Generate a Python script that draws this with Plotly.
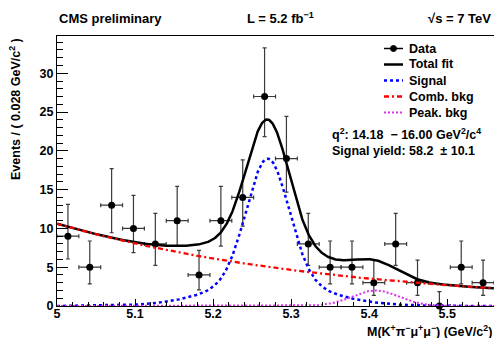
import numpy as np
import plotly.graph_objects as go

# ---- binned data: M(K+ pi- mu+ mu-) in 0.028 GeV bins ----
mass_centers = [5.014, 5.042, 5.070, 5.098, 5.126, 5.154, 5.182, 5.210, 5.238, 5.266,
                5.294, 5.322, 5.350, 5.378, 5.406, 5.434, 5.462, 5.490, 5.518, 5.546]
events = [9, 5, 13, 10, 8, 11, 4, 11, 14, 27, 19, 8, 5, 5, 3, 8, 3, 0, 5, 3]
# asymmetric (Poisson) error bars
err_low = [2.94, 2.16, 3.56, 3.11, 2.77, 3.27, 1.91, 3.27, 3.70, 5.18,
           4.32, 2.77, 2.16, 2.16, 1.63, 2.77, 1.63, 0.00, 2.16, 1.63]
err_high = [4.11, 3.38, 4.70, 4.26, 3.95, 4.42, 3.16, 4.42, 4.83, 6.27,
            5.43, 3.95, 3.38, 3.38, 2.92, 3.95, 2.92, 1.84, 3.38, 2.92]
bin_width = 0.028

# ---- fit model parameters ----
sig_yield = 58.2
sig_err = 10.1
sig_mean = 5.270
sig_sigma_core = 0.027
sig_sigma_wide = 0.070
sig_frac_core = 0.656

comb_at_5 = 10.6        # events / bin at 5.0 GeV
comb_slope = -2.75      # exponential slope (1/GeV)

peak_amp = 2.0          # events / bin at maximum
peak_mean = 5.408
peak_sigma = 0.030

q2_low, q2_high = 14.18, 16.00

x_lo, x_hi = 5.0, 5.56
y_hi = 34.8


def gauss(x, m, s):
    return np.exp(-0.5 * ((x - m) / s) ** 2) / (s * np.sqrt(2 * np.pi))


xf = np.linspace(x_lo, x_hi, 600)
signal = sig_yield * bin_width * (sig_frac_core * gauss(xf, sig_mean, sig_sigma_core)
                                  + (1 - sig_frac_core) * gauss(xf, sig_mean, sig_sigma_wide))
comb = comb_at_5 * np.exp(comb_slope * (xf - x_lo))
peak = peak_amp * np.exp(-0.5 * ((xf - peak_mean) / peak_sigma) ** 2)
total = signal + comb + peak

W, H = 494, 338
ML, MR, MT, MB = 57, 0, 36, 32
PW, PH = W - ML - MR, H - MT - MB


def px(xp):
    return (xp - ML) / PW


def py(yp):
    return (H - MB - yp) / PH


FONT = "Liberation Sans, Arial, Helvetica, sans-serif"
BLUE, RED, MAG = "#0000ff", "#ff0000", "#dd33ee"
RED_DASH = "5px,3px,2px,3px"

fig = go.Figure()

fig.add_trace(go.Scatter(
    x=mass_centers, y=events, mode="markers",
    marker=dict(color="black", size=7),
    error_y=dict(type="data", symmetric=False, array=err_high, arrayminus=err_low,
                 color="#3a3a3a", thickness=1.2, width=2),
    error_x=dict(type="constant", value=bin_width / 2, color="#3a3a3a",
                 thickness=1.2, width=2),
    showlegend=False, cliponaxis=False))

fig.add_trace(go.Scatter(x=xf, y=total, mode="lines",
                         line=dict(color="black", width=2.5), showlegend=False))
fig.add_trace(go.Scatter(x=xf, y=comb, mode="lines",
                         line=dict(color=RED, width=2.3, dash=RED_DASH),
                         showlegend=False))
fig.add_trace(go.Scatter(x=xf, y=signal, mode="lines",
                         line=dict(color=BLUE, width=2.5, dash="3px,3px"),
                         showlegend=False))
fig.add_trace(go.Scatter(x=xf, y=peak, mode="lines",
                         line=dict(color=MAG, width=2, dash="2px,2px"),
                         showlegend=False))

annotations = []
shapes = []

# header
hdr_font = dict(family=FONT, size=13, color="black", weight="bold")
annotations += [
    dict(text="CMS preliminary", x=px(57), y=py(18), xanchor="left", yanchor="middle",
         font=hdr_font),
    dict(text="L = 5.2 fb<sup>\u22121</sup>", x=px(245), y=py(18), xanchor="left",
         yanchor="middle", font=hdr_font),
    dict(text="\u221As = 7 TeV", x=px(493), y=py(18), xanchor="right", yanchor="middle",
         font=hdr_font),
]

# axis titles
annotations += [
    dict(text="Events / ( 0.028 GeV/c<sup>2</sup> )", textangle=-90,
         x=px(15), y=1.0, xanchor="center", yanchor="top",
         font=dict(family=FONT, size=12.5, color="black", weight="bold")),
    dict(text="M(K<sup>+</sup>\u03c0<sup>\u2212</sup>\u03bc<sup>+</sup>\u03bc<sup>\u2212</sup>) (GeV/c<sup>2</sup>)",
         x=px(494), y=py(331), xanchor="right", yanchor="middle",
         font=dict(family=FONT, size=12.5, color="black", weight="bold")),
]

# legend
leg_font = dict(family=FONT, size=12.5, color="black", weight="bold")
leg_rows = [
    ("Data", dict(color="black", width=1.5), True),
    ("Total fit", dict(color="black", width=2.5), False),
    ("Signal", dict(color=BLUE, width=2.5, dash="3px,3px"), False),
    ("Comb. bkg", dict(color=RED, width=2.3, dash=RED_DASH), False),
    ("Peak. bkg", dict(color=MAG, width=2, dash="2px,2px"), False),
]
row_y = [48.5, 64.5, 80.5, 96.5, 112.5]
for (label, ln, dot), yp in zip(leg_rows, row_y):
    shapes.append(dict(type="line", xref="paper", yref="paper",
                       x0=px(384), x1=px(403), y0=py(yp), y1=py(yp), line=ln))
    if dot:
        shapes.append(dict(type="circle", xref="paper", yref="paper",
                           x0=px(390.5), x1=px(396.5), y0=py(yp + 3), y1=py(yp - 3),
                           fillcolor="black", line=dict(color="black", width=1)))
    annotations.append(dict(text=label, x=px(407), y=py(yp), xanchor="left",
                            yanchor="middle", font=leg_font))

annotations += [
    dict(text=f"q<sup>2</sup>: {q2_low:.2f}  \u2212 {q2_high:.2f} GeV<sup>2</sup>/c<sup>4</sup>",
         x=px(330), y=py(134), xanchor="left", yanchor="middle", font=leg_font),
    dict(text=f"Signal yield: {sig_yield:.1f}  \u00b1 {sig_err:.1f}",
         x=px(330), y=py(151), xanchor="left", yanchor="middle", font=leg_font),
]
for a in annotations:
    a.setdefault("xref", "paper")
    a.setdefault("yref", "paper")
    a.setdefault("showarrow", False)

tick_font = dict(family=FONT, size=12.5, color="black", weight="bold")
fig.update_layout(
    width=W, height=H,
    margin=dict(l=ML, r=MR, t=MT, b=MB, pad=0),
    paper_bgcolor="white", plot_bgcolor="white",
    font=dict(family=FONT),
    xaxis=dict(range=[x_lo, x_hi], showgrid=False, zeroline=False,
               showline=True, linecolor="black", linewidth=1, mirror=True,
               ticks="inside", ticklen=7, tickwidth=1, tickcolor="black",
               tick0=5, dtick=0.1, tickfont=tick_font, ticklabelstandoff=-4,
               minor=dict(ticks="inside", ticklen=4, tickwidth=1, tickcolor="black",
                          tick0=5, dtick=0.02, showgrid=False)),
    yaxis=dict(range=[0, y_hi], showgrid=False, zeroline=False,
               showline=True, linecolor="black", linewidth=1, mirror=True,
               ticks="inside", ticklen=11, tickwidth=1, tickcolor="black",
               tick0=0, dtick=5, tickfont=tick_font,
               minor=dict(ticks="inside", ticklen=5.5, tickwidth=1, tickcolor="black",
                          tick0=0, dtick=1, showgrid=False)),
    annotations=annotations,
    shapes=shapes,
)

fig.write_html("out.html")
